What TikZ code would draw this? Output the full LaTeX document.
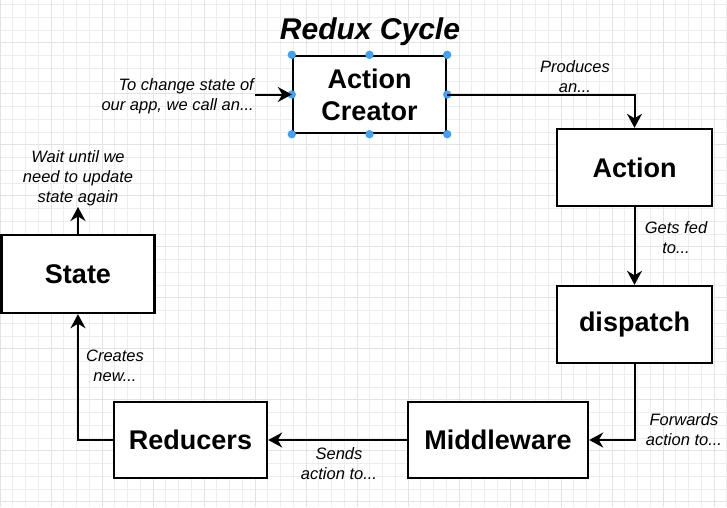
\documentclass[tikz,border=0pt]{standalone}
\usepackage{fontspec}
\setmainfont{Liberation Sans}
\usetikzlibrary{arrows.meta}
\definecolor{handleblue}{RGB}{70,160,238}
\tikzset{
	box/.style={draw, line width=2.4pt, fill=white, align=center, inner sep=0pt,
		font=\bfseries\fontsize{27}{32}\selectfont},
	conn/.style={line width=2pt, -{Stealth[length=14pt, width=15pt, inset=4.5pt]}},
	note/.style={align=center, inner sep=1pt, font=\itshape\fontsize{16.5}{20}\selectfont},
	gridminor/.style={line width=0.6pt, color=black!7},
	gridmajor/.style={line width=0.8pt, color=black!11},
	handle/.style={fill=handleblue, draw=none}
}

\begin{document}
\begin{tikzpicture}[x=1pt, y=-1pt]
			%%%%% START %%%%%
			\useasboundingbox[fill=white] (0, 0) rectangle (727, 507);
			
			\foreach \i in {0,...,57} \draw[gridminor] (\i*12.75, 0) -- (\i*12.75, 507);
			\foreach \j in {0,...,39} \draw[gridminor] (0, 4.45+\j*12.75) -- (727, 4.45+\j*12.75);
			\foreach \i in {0,...,14} \draw[gridmajor] (\i*51, 0) -- (\i*51, 507);
			\foreach \j in {0,...,9} \draw[gridmajor] (0, 42.7+\j*51) -- (727, 42.7+\j*51);
			
			\node[font=\bfseries\itshape\fontsize{30}{34}\selectfont] (title) at (370, 32) {Redux Cycle};
			
			\node[box, minimum width=153, minimum height=77] (creator) at (369.5, 94.5) {Action\\Creator};
			\node[box, minimum width=155, minimum height=77] (action) at (634.5, 167.5) {Action};
			\node[box, minimum width=155, minimum height=77] (dispatch) at (634.5, 324.5) {dispatch};
			\node[box, minimum width=180, minimum height=76] (middleware) at (498, 440) {Middleware};
			\node[box, minimum width=153, minimum height=76] (reducers) at (190.5, 440) {Reducers};
			\node[box, minimum width=153, minimum height=78] (state) at (78, 274) {State};
			
			% selected box
			\draw[white, line width=0.7pt, dash pattern=on 2.5pt off 2.5pt] (creator.north west) rectangle (creator.south east);
			\foreach \a in {north west, north, north east, east, south east, south, south west, west}
				\fill[handle] (creator.\a) circle (4.2);
			
			\node[note, anchor=east, align=right] (change) at (255, 96.5) {To change state of\\our app, we call an...};
			\node[note] (produces) at (575, 76.5) {Produces\\an...};
			\node[note] (getsfed) at (676, 238) {Gets fed\\to...};
			\node[note] (forwards) at (684, 430) {Forwards\\action to...};
			\node[note] (sends) at (339, 463.5) {Sends\\action to...};
			\node[note] (creates) at (115, 365.5) {Creates\\new...};
			\node[note, anchor=south] (wait) at (78, 207) {Wait until we\\need to update\\state again};
			
			\draw[conn] (change.east |- creator.west) -- (creator.west);
			\draw[conn] (creator.east) -| (action.north);
			\draw[conn] (action.south) -- (dispatch.north);
			\draw[conn] (dispatch.south) |- (middleware.east);
			\draw[conn] (middleware.west) -- (reducers.east);
			\draw[conn] (reducers.west) -| (state.south);
			\draw[conn] (state.north) -- (state.north |- wait.south);
			%%%%% END %%%%%
\end{tikzpicture}
\end{document}
